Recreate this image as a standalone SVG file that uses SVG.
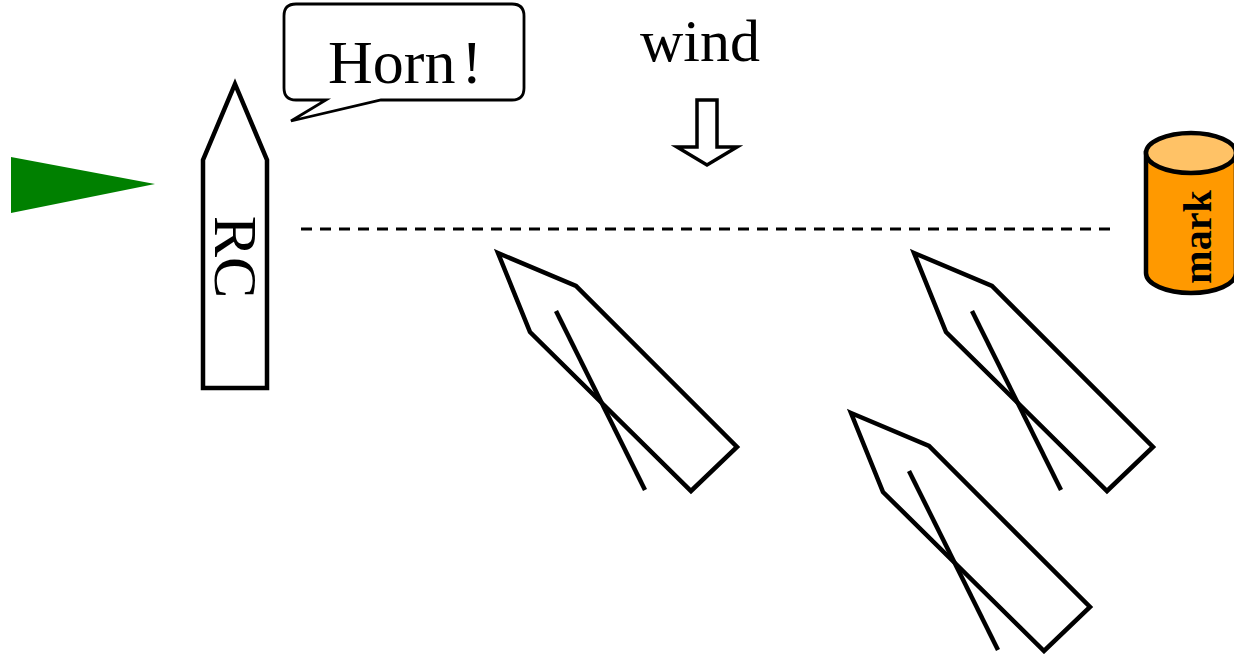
<svg xmlns="http://www.w3.org/2000/svg" xmlns:xlink="http://www.w3.org/1999/xlink" width="1234" height="654" viewBox="0 0 1234 654">
  <style>
    .hull { fill: #ffffff; stroke: #000000; stroke-width: 4.5; stroke-linejoin: miter; }
    .sail { fill: none; stroke: #000000; stroke-width: 4.5; }
    .serif { font-family: "Liberation Serif", "Times New Roman", serif; fill: #000000; }
  </style>
  <defs>
    <!-- racing yacht: hull outline plus boom/sail line -->
    <g id="yacht">
      <polygon class="hull" points="498,253 576,286 737,447 691,491 530,332"/>
      <line class="sail" x1="556" y1="311" x2="645" y2="490"/>
    </g>
  </defs>

  <rect width="1234" height="654" fill="#ffffff"/>

  <!-- start line between committee boat and mark -->
  <g id="connectors">
    <line x1="301" y1="229" x2="1116" y2="229" stroke="#000" stroke-width="2.8" stroke-dasharray="11,8"/>
  </g>

  <g id="flag">
    <polygon points="11,157 11,213 155,184" fill="#008000"/>
  </g>

  <g id="committee-boat">
    <polygon class="hull" points="235,84 267,160 267,388 203,388 203,160"/>
    <text class="serif" font-size="62" text-anchor="middle" transform="translate(215,257) rotate(90)">RC</text>
  </g>

  <g id="horn-bubble">
    <path d="M296,4 H512 Q524,4 524,16 V88 Q524,100 512,100 H381 L291,121 L326,100 H296 Q284,100 284,88 V16 Q284,4 296,4 Z" fill="#ffffff" stroke="#000" stroke-width="2.8"/>
    <text class="serif" font-size="62" x="328" y="83">Horn<tspan dx="6">!</tspan></text>
  </g>

  <g id="wind">
    <text class="serif" font-size="60" x="700" y="61" text-anchor="middle">wind</text>
    <polygon points="697,100 717,100 717,147 737,147 707,165 677,147 697,147" fill="#ffffff" stroke="#000" stroke-width="3.5"/>
  </g>

  <g id="mark">
    <path d="M1146,153 V273 A45,20 0 0 0 1236,273 V153 Z" fill="#ff9900" stroke="#000" stroke-width="4.5"/>
    <ellipse cx="1191" cy="153" rx="45" ry="20" fill="#ffc266" stroke="#000" stroke-width="4.5"/>
    <text class="serif" font-size="40" font-weight="bold" text-anchor="middle" transform="translate(1211,237) rotate(-90)">mark</text>
  </g>

  <g id="boat-1">
    <use xlink:href="#yacht"/>
  </g>
  <g id="boat-2">
    <use xlink:href="#yacht" transform="translate(416,0)"/>
  </g>
  <g id="boat-3">
    <use xlink:href="#yacht" transform="translate(353,160)"/>
  </g>
</svg>
